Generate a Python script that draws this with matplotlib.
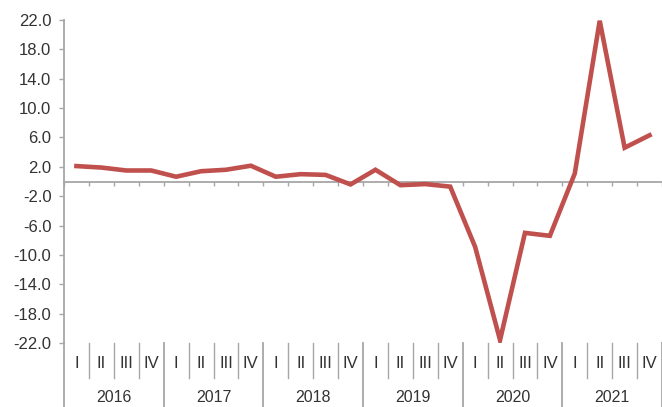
import numpy as np
import matplotlib.pyplot as plt
import matplotlib.transforms as mtransforms

plt.rcParams['font.family'] = ['Liberation Sans', 'DejaVu Sans']

years = ['2016', '2017', '2018', '2019', '2020', '2021']
quarters = ['I', 'II', 'III', 'IV']
values = [2.1, 1.9, 1.5, 1.5,
          0.65, 1.4, 1.6, 2.15,
          0.65, 1.0, 0.9, -0.4,
          1.6, -0.5, -0.35, -0.7,
          -8.9, -21.6, -7.0, -7.4,
          1.1, 21.9, 4.6, 6.3]

line_col = '#C0504D'
axis_col = '#A6A6A6'
text_col = '#333333'

fig = plt.figure(figsize=(6.62, 4.07), dpi=100)
ax = fig.add_axes([64 / 662, 1 - 343 / 407, 598 / 662, 323 / 407])

x = np.arange(len(values))
ax.plot(x, values, color=line_col, lw=3.3, solid_joinstyle='miter', zorder=3)

ax.set_xlim(-0.5, len(values) - 0.5)
ax.set_ylim(-22, 22)
ax.set_yticks(np.arange(-22, 23, 4))
ax.set_yticklabels(['%.1f' % v for v in np.arange(-22, 23, 4)])

for s in ['top', 'right']:
    ax.spines[s].set_visible(False)
ax.spines['left'].set_color(axis_col)
ax.spines['left'].set_linewidth(1.3)
ax.spines['bottom'].set_position(('data', 0))
ax.spines['bottom'].set_color(axis_col)
ax.spines['bottom'].set_linewidth(1.3)

ax.set_xticks(np.arange(-0.5, len(values), 1.0))
ax.set_xticklabels([])
ax.tick_params(axis='x', direction='out', length=3, color=axis_col, width=1)
ax.tick_params(axis='y', direction='out', length=3.5, color=axis_col, width=1,
               pad=5.5, labelsize=12, labelcolor=text_col)

# category labels below the plot
trans = mtransforms.blended_transform_factory(ax.transData, ax.transAxes)
for i in range(len(values)):
    ax.text(i, -0.063, quarters[i % 4], transform=trans, ha='center', va='center',
            fontsize=12, color=text_col)
    b = i + 0.5
    if (i + 1) % 4 != 0:
        ax.plot([b, b], [0, -0.108], transform=trans, color=axis_col, lw=1, clip_on=False)

for k, yr in enumerate(years):
    ax.text(4 * k + 1.5, -0.17, yr, transform=trans, ha='center', va='center',
            fontsize=11.5, color=text_col)
for k in range(len(years) + 1):
    b = 4 * k - 0.5
    ax.plot([b, b], [0, -0.2], transform=trans, color=axis_col, lw=1.3, clip_on=False)

fig.savefig('out.png', dpi=100)
